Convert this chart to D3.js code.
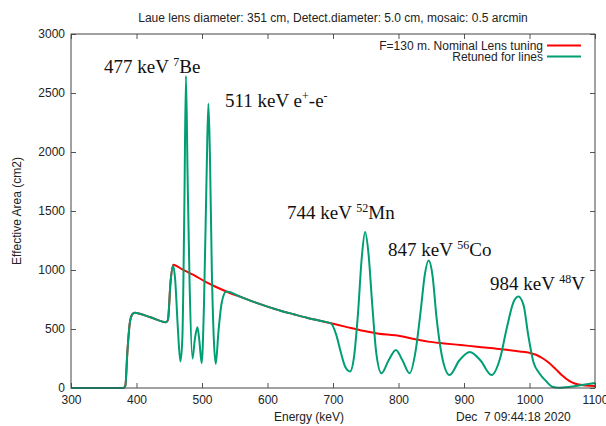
<!DOCTYPE html>
<html>
<head>
<meta charset="utf-8">
<script src="https://cdn.jsdelivr.net/npm/d3@7"></script>
<style>
  body { margin: 0; background: #fff; }
</style>
</head>
<body>
<div id="chart"></div>
<script>
// Nominal lens tuning, [energy keV, effective area cm2]
var nominal = [
  [300, 0], [380, 0], [383, 20], [386, 300], [390, 560], [394, 628], [397, 638],
  [420, 602], [445, 558], [448, 575], [452, 900], [456, 1045], [470, 1005],
  [487, 958], [507, 895], [520, 860], [537, 818], [560, 770], [580, 728],
  [600, 690], [620, 655], [640, 625], [660, 596], [680, 570], [697, 548],
  [720, 518], [745, 486], [770, 460], [795, 447], [820, 420], [845, 393],
  [870, 378], [895, 364], [920, 350], [945, 336], [965, 324], [985, 310],
  [1000, 298], [1010, 282], [1020, 252], [1030, 212], [1040, 160], [1050, 105],
  [1060, 62], [1070, 36], [1085, 22], [1100, 17]
];

// Lens retuned for the lines
var retuned = [
  [300, 0], [380, 0], [383, 20], [386, 300], [390, 560], [394, 628], [397, 638],
  [420, 602], [445, 558], [448, 580], [452, 900], [456, 1035], [459, 920],
  [463, 520], [467, 225], [470, 420], [473, 1500], [475.5, 2645], [478, 1800],
  [481, 900], [485.5, 250], [489, 410], [493, 515], [496, 400], [499.5, 210],
  [503, 700], [507, 1800], [509.7, 2410], [512, 2000], [515, 1000], [518, 420],
  [521, 205], [525, 470], [530, 720], [537, 818], [560, 770], [580, 728],
  [600, 690], [620, 655], [640, 625], [660, 596], [680, 570], [697, 548],
  [705, 450], [712, 300], [719, 175], [726, 140], [732, 260], [738, 620],
  [744, 1110], [749, 1322], [754, 1150], [760, 700], [766, 300], [774, 125],
  [785, 235], [796, 322], [806, 235], [817, 125], [826, 310], [834, 660],
  [840, 955], [846, 1080], [852, 950], [858, 600], [866, 280], [878, 110],
  [893, 235], [909, 306], [925, 235], [942, 110], [955, 250], [965, 500],
  [975, 720], [983, 775], [991, 700], [998, 450], [1006, 220], [1015, 125],
  [1025, 60], [1035, 10], [1045, 2], [1060, 8], [1080, 25], [1100, 42]
];

var xTicks = [300, 400, 500, 600, 700, 800, 900, 1000, 1100];
var yTicks = [0, 500, 1000, 1500, 2000, 2500, 3000];
var seriesNames = ["F=130 m. Nominal Lens tuning", "Retuned for lines"];
var seriesColors = ["#ff0000", "#009e73"];

var W = 606, H = 426;
var mL = 71, mR = 595, mT = 34, mB = 388;
var sans = "Liberation Sans, Arial, sans-serif";
var serif = "Liberation Serif, Times New Roman, serif";

var svg = d3.select("#chart").append("svg")
  .attr("width", W).attr("height", H)
  .attr("font-family", sans);

var x = d3.scaleLinear().domain([300, 1100]).range([mL, mR]);
var y = d3.scaleLinear().domain([0, 3000]).range([mB, mT]);

// axes, gnuplot style: inward ticks on all four sides
var gx = svg.append("g").attr("transform", "translate(0," + mB + ")")
  .call(d3.axisBottom(x).tickValues(xTicks).tickSize(-5).tickPadding(5).tickFormat(d3.format("d")));
var gxt = svg.append("g").attr("transform", "translate(0," + mT + ")")
  .call(d3.axisTop(x).tickValues(xTicks).tickSize(-5).tickFormat(""));
var gy = svg.append("g").attr("transform", "translate(" + mL + ",0)")
  .call(d3.axisLeft(y).tickValues(yTicks).tickSize(-5).tickPadding(6).tickFormat(d3.format("d")));
var gyr = svg.append("g").attr("transform", "translate(" + mR + ",0)")
  .call(d3.axisRight(y).tickValues(yTicks).tickSize(-5).tickFormat(""));

[gx, gxt, gy, gyr].forEach(function(g) {
  g.attr("font-family", sans).attr("font-size", 12);
  g.select(".domain").remove();
  g.selectAll("line").attr("stroke", "#555");
  g.selectAll("text").attr("fill", "#222");
});
gx.selectAll("text").attr("dy", "0.9em");

var line = d3.line()
  .x(function(d) { return x(d[0]); })
  .y(function(d) { return y(d[1]); })
  .curve(d3.curveMonotoneX);

var plot = svg.append("g");
[nominal, retuned].forEach(function(s, i) {
  plot.append("path")
    .datum(s)
    .attr("d", line)
    .attr("fill", "none")
    .attr("stroke", seriesColors[i])
    .attr("stroke-width", 2)
    .attr("stroke-linejoin", "round");
});

// frame
svg.append("rect")
  .attr("x", mL).attr("y", mT)
  .attr("width", mR - mL).attr("height", mB - mT)
  .attr("fill", "none").attr("stroke", "#444").attr("stroke-width", 1);

// title
svg.append("text")
  .attr("x", (mL + mR) / 2).attr("y", 22)
  .attr("text-anchor", "middle").attr("font-size", "12px").attr("fill", "#222")
  .text("Laue lens diameter: 351 cm, Detect.diameter: 5.0 cm, mosaic: 0.5 arcmin");

// legend
seriesNames.forEach(function(n, i) {
  var ly = 45.5 + i * 11;
  svg.append("text")
    .attr("x", 543).attr("y", ly).attr("dy", "0.35em")
    .attr("text-anchor", "end").attr("font-size", "12px").attr("fill", "#222")
    .text(n);
  svg.append("line")
    .attr("x1", 547).attr("x2", 581).attr("y1", ly).attr("y2", ly)
    .attr("stroke", seriesColors[i]).attr("stroke-width", 2);
});

// axis titles
svg.append("text")
  .attr("x", 309).attr("y", 421)
  .attr("text-anchor", "middle").attr("font-size", "12px").attr("fill", "#222")
  .text("Energy (keV)");
svg.append("text")
  .attr("transform", "translate(21,211) rotate(-90)")
  .attr("text-anchor", "middle").attr("font-size", "12px").attr("fill", "#222")
  .text("Effective Area (cm2)");
svg.append("text")
  .attr("x", 456).attr("y", 421)
  .attr("font-size", "12px").attr("fill", "#222")
  .attr("xml:space", "preserve")
  .style("white-space", "pre")
  .text("Dec  7 09:44:18 2020");

// line labels
var lineLabels = [
  {pre: "477 keV ", sup: "7", post: "Be", px: 104, py: 73},
  {pre: "511 keV e", sup: "+", post: "-e", sup2: "-", px: 225, py: 107},
  {pre: "744 keV ", sup: "52", post: "Mn", px: 287, py: 219},
  {pre: "847 keV ", sup: "56", post: "Co", px: 388, py: 256},
  {pre: "984 keV ", sup: "48", post: "V", px: 490, py: 290}
];
lineLabels.forEach(function(l) {
  var t = svg.append("text")
    .attr("x", l.px).attr("y", l.py)
    .attr("font-family", serif)
    .attr("font-size", "19px").attr("fill", "#111")
    .attr("xml:space", "preserve");
  t.append("tspan").text(l.pre);
  t.append("tspan").attr("font-size", "12px").attr("dy", -7).text(l.sup);
  t.append("tspan").attr("dy", 7).text(l.post);
  if (l.sup2) t.append("tspan").attr("font-size", "12px").attr("dy", -7).text(l.sup2);
});
</script>
</body>
</html>
